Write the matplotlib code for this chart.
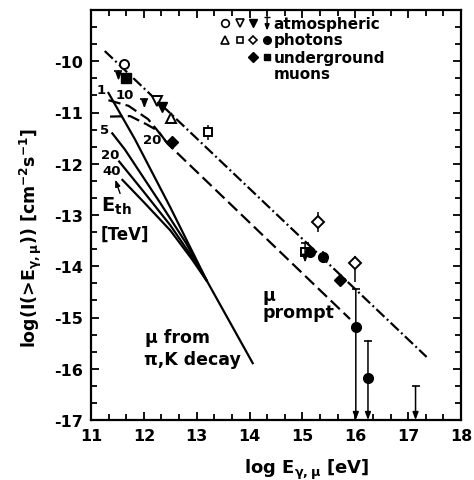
import matplotlib
matplotlib.use('Agg')
import matplotlib.pyplot as plt
from matplotlib.ticker import MultipleLocator

plt.rcParams['font.family'] = ['DejaVu Sans']
plt.rcParams['font.weight'] = 'bold'
plt.rcParams['axes.unicode_minus'] = False
plt.rcParams['lines.scale_dashes'] = False
plt.rcParams['mathtext.fontset'] = 'custom'
plt.rcParams['mathtext.rm'] = 'DejaVu Sans:bold'
plt.rcParams['mathtext.it'] = 'DejaVu Sans:bold'
plt.rcParams['mathtext.bf'] = 'DejaVu Sans:bold'
plt.rcParams['mathtext.sf'] = 'DejaVu Sans:bold'
plt.rcParams['mathtext.default'] = 'rm'

# ---------------- data ----------------
# dash-dotted line (upper prompt estimate)
dashdot_x = [11.26, 17.35]
dashdot_y = [-9.80, -15.77]
# dashed prompt-muon curves (E_th = 10 and 20 TeV)
prompt10_x = [11.33, 11.71, 12.08, 12.24, 12.45, 15.90]
prompt10_y = [-10.76, -10.87, -11.13, -11.33, -11.61, -15.03]
prompt20_x = [11.36, 11.74, 12.05, 12.27, 12.45]
prompt20_y = [-11.08, -11.07, -11.23, -11.36, -11.61]
# solid: mu from pi,K decay for E_th = 1, 5, 20, 40 TeV
pik1_x = [11.32, 11.83, 12.50, 13.20, 14.07]
pik1_y = [-10.60, -11.52, -12.85, -14.30, -15.91]
pik5_x = [11.39, 11.64, 12.30, 12.80, 13.20]
pik5_y = [-11.39, -11.72, -12.75, -13.55, -14.30]
pik20_x = [11.52, 12.00, 12.50, 12.90, 13.20]
pik20_y = [-11.94, -12.55, -13.20, -13.80, -14.30]
pik40_x = [11.58, 12.00, 12.50, 12.90, 13.20]
pik40_y = [-12.30, -12.75, -13.30, -13.85, -14.30]

# atmospheric photons
open_circle_x = [11.63]
open_circle_y = [-10.06]
open_dtri_x = [12.24]
open_dtri_y = [-10.77]
filled_dtri_x = [12.34]
filled_dtri_y = [-10.90]
open_tri_x = [12.52]
open_tri_y = [-11.11]
open_sq_x = [13.22, 15.05]
open_sq_y = [-11.39, -13.73]
open_sq_err = [0.15, 0.0]
open_dia_x = [15.30, 15.99]
open_dia_y = [-13.14, -13.94]
open_dia_err_lo = [0.20, 0.37]
open_dia_err_hi = [0.20, 0.14]
filled_circ_x = [15.14, 15.39, 16.01, 16.24]
filled_circ_y = [-13.72, -13.81, -15.19, -16.19]
filled_circ_err = [0.0, 0.10, 0.0, 0.0]
# upper limits / long error bars with arrows
ul_x = [11.52, 12.01, 15.05, 16.01, 16.24, 17.14]
ul_top = [-10.19, -10.73, -13.55, -14.44, -15.45, -16.34]
ul_bot = [-10.38, -10.92, -13.93, -17.0, -17.0, -17.0]
# underground muons
filled_dia_x = [12.53, 15.71]
filled_dia_y = [-11.58, -14.26]
filled_dia_err = [0.0, 0.10]
filled_sq_x = [11.67]
filled_sq_y = [-10.32]

xticks = [11, 12, 13, 14, 15, 16, 17, 18]
yticks = [-17, -16, -15, -14, -13, -12, -11, -10]

# ---------------- figure ----------------
fig = plt.figure(figsize=(4.74, 4.81), dpi=100)
ax = fig.add_axes([91/474, 1-421/481, 370/474, 410/481])
ax.set_xlim(11, 18)
ax.set_ylim(-17, -9)

K = 'black'
LW = 1.6

ax.plot(dashdot_x, dashdot_y, color=K, lw=LW, linestyle=(0, (8, 2.4, 1.4, 2.4)))
ax.plot(prompt10_x, prompt10_y, color=K, lw=LW, linestyle=(0, (9, 3.8)))
ax.plot(prompt20_x, prompt20_y, color=K, lw=LW, linestyle=(0, (9, 3.8)))
for xs, ys in [(pik1_x, pik1_y), (pik5_x, pik5_y), (pik20_x, pik20_y), (pik40_x, pik40_y)]:
    ax.plot(xs, ys, color=K, lw=LW, solid_capstyle='butt')

# upper limits with caps and arrows
for x, yt, yb in zip(ul_x, ul_top, ul_bot):
    ax.annotate('', xy=(x, yb), xytext=(x, yt),
                arrowprops=dict(arrowstyle='-|>,head_length=0.45,head_width=0.17',
                                lw=1.1, color=K, shrinkA=0, shrinkB=0))
    ax.plot([x], [yt], marker='_', ms=6, mew=1.2, color=K)

ms = 6.5
ax.plot(open_circle_x, open_circle_y, 'o', ms=ms, mfc='white', mec=K, mew=1.4)
ax.plot(open_dtri_x, open_dtri_y, 'v', ms=ms+0.5, mfc='white', mec=K, mew=1.4)
ax.plot(filled_dtri_x, filled_dtri_y, 'v', ms=ms+0.5, mfc=K, mec=K)
ax.plot(open_tri_x, open_tri_y, '^', ms=ms+0.5, mfc='white', mec=K, mew=1.4)
ax.errorbar(open_sq_x, open_sq_y, yerr=open_sq_err, fmt='s', ms=ms-0.5, mfc='white',
            mec=K, mew=1.4, ecolor=K, elinewidth=1.1, capsize=0)
ax.errorbar(open_dia_x, open_dia_y, yerr=[open_dia_err_lo, open_dia_err_hi], fmt='D', ms=ms-0.5,
            mfc='white', mec=K, mew=1.4, ecolor=K, elinewidth=1.1, capsize=0, zorder=4)
ax.errorbar(filled_circ_x, filled_circ_y, yerr=filled_circ_err, fmt='o', ms=ms+0.5, mfc=K,
            mec=K, ecolor=K, elinewidth=1.1, capsize=0, zorder=4)
ax.errorbar(filled_dia_x, filled_dia_y, yerr=filled_dia_err, fmt='D', ms=ms, mfc=K,
            mec=K, ecolor=K, elinewidth=1.1, capsize=0, zorder=4)
ax.plot(filled_sq_x, filled_sq_y, 's', ms=ms, mfc=K, mec=K)

# ---------------- legend (drawn as in the original) ----------------
lx = [0.361, 0.403, 0.437, 0.476]
ly = [0.968, 0.927, 0.885, 0.844]
tx = 0.493
lms = 5.5
T = ax.transAxes
ax.plot(lx[0], ly[0], 'o', ms=lms, mfc='white', mec=K, mew=1.2, transform=T)
ax.plot(lx[1], ly[0], 'v', ms=lms, mfc='white', mec=K, mew=1.2, transform=T)
ax.plot(lx[2], ly[0], 'v', ms=lms, mfc=K, mec=K, transform=T)
ax.annotate('', xy=(lx[3], ly[0]-0.018), xytext=(lx[3], ly[0]+0.016), xycoords=T, textcoords=T,
            arrowprops=dict(arrowstyle='-|>,head_length=0.35,head_width=0.14',
                            lw=1.0, color=K, shrinkA=0, shrinkB=0))
ax.plot(lx[3], ly[0]+0.016, marker='_', ms=4.5, mew=1.0, color=K, transform=T)
ax.plot(lx[0], ly[1], '^', ms=lms, mfc='white', mec=K, mew=1.2, transform=T)
ax.plot(lx[1], ly[1], 's', ms=lms-0.5, mfc='white', mec=K, mew=1.2, transform=T)
ax.plot(lx[2], ly[1], 'D', ms=lms-1, mfc='white', mec=K, mew=1.2, transform=T)
ax.plot(lx[3], ly[1], 'o', ms=lms, mfc=K, mec=K, transform=T)
ax.plot(lx[2], ly[2], 'D', ms=lms-0.5, mfc=K, mec=K, transform=T)
ax.plot(lx[3], ly[2], 's', ms=lms-0.5, mfc=K, mec=K, transform=T)
for txt, y in zip(['atmospheric', 'photons', 'underground', 'muons'], ly):
    ax.text(tx, y, txt, transform=T, fontsize=11, va='center', ha='left')

# ---------------- annotations ----------------
fs_n = 9.5
ax.text(11.20, -10.55, '1', fontsize=fs_n, ha='center', va='center')
ax.text(11.64, -10.64, '10', fontsize=fs_n, ha='center', va='center')
ax.text(11.26, -11.33, '5', fontsize=fs_n, ha='center', va='center')
ax.text(11.36, -11.81, '20', fontsize=fs_n, ha='center', va='center')
ax.text(11.39, -12.14, '40', fontsize=fs_n, ha='center', va='center')
ax.text(12.15, -11.53, '20', fontsize=fs_n, ha='center', va='center')
ax.text(11.18, -12.82, r'E$_{th}$', fontsize=14, ha='left', va='center')
ax.text(11.18, -13.37, '[TeV]', fontsize=12, ha='left', va='center')
ax.annotate('', xy=(11.46, -12.31), xytext=(11.55, -12.58),
            arrowprops=dict(arrowstyle='-|>,head_length=0.4,head_width=0.15',
                            lw=1.0, color=K, shrinkA=0, shrinkB=0))
fs_t = 12.5
ax.text(12.03, -15.39, 'μ from', fontsize=fs_t, ha='left', va='center')
ax.text(12.00, -15.81, 'π,K decay', fontsize=fs_t, ha='left', va='center')
ax.text(14.24, -14.56, 'μ', fontsize=fs_t, ha='left', va='center')
ax.text(14.24, -14.90, 'prompt', fontsize=fs_t, ha='left', va='center')

# ---------------- axes styling ----------------
ax.set_xticks(xticks)
ax.set_yticks(yticks)
ax.set_xticklabels([str(v) for v in xticks])
ax.set_yticklabels([str(v) for v in yticks])
ax.xaxis.set_minor_locator(MultipleLocator(1/3))
ax.yaxis.set_minor_locator(MultipleLocator(1/3))
ax.tick_params(which='both', direction='in', top=True, right=True, width=1.3, colors=K)
ax.tick_params(which='major', length=6, labelsize=11.5, pad=6)
ax.tick_params(which='minor', length=4)
for s in ax.spines.values():
    s.set_linewidth(1.6)

fig.text(0.066, 1-238/481, r'log(I(>E$_{γ,μ}$)) [cm$^{-2}$s$^{-1}$]', rotation=90,
         fontsize=12.5, ha='center', va='center')
fig.text(307/474, 1-470/481, r'log E$_{γ,μ}$ [eV]', fontsize=13, ha='center', va='center')

fig.savefig('out.png', dpi=100)
